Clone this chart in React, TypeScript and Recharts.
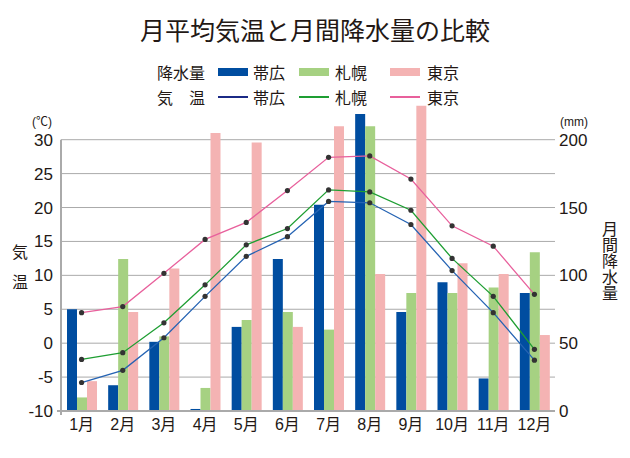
import {
  Bar,
  CartesianGrid,
  ComposedChart,
  Line,
  ReferenceArea,
  XAxis,
  YAxis,
} from "recharts";

const MONTHS = ["1月", "2月", "3月", "4月", "5月", "6月", "7月", "8月", "9月", "10月", "11月", "12月"];

// monthly precipitation (mm)
const PRECIP_OBIHIRO = [75, 19, 51, 1.5, 62, 112, 152, 219, 73, 95, 24, 87];
const PRECIP_SAPPORO = [10, 112, 55, 17, 67, 73, 60, 210, 87, 87, 91, 117];
const PRECIP_TOKYO = [22, 73, 105, 205, 198, 62, 210, 101, 225, 109, 101, 56];

// monthly mean temperature (°C)
const TEMP_OBIHIRO = [-5.8, -4.0, 0.8, 6.9, 12.8, 15.7, 20.9, 20.7, 17.5, 10.7, 4.5, -2.5];
const TEMP_SAPPORO = [-2.4, -1.4, 3.0, 8.6, 14.5, 16.9, 22.6, 22.3, 19.6, 12.5, 6.9, -0.9];
const TEMP_TOKYO = [4.5, 5.4, 10.3, 15.3, 17.8, 22.5, 27.4, 27.6, 24.2, 17.3, 14.3, 7.2];

const TEMP_TICKS = [-10, -5, 0, 5, 10, 15, 20, 25, 30];
const PRECIP_TICKS = [0, 50, 100, 150, 200];

const CITIES = ["帯広", "札幌", "東京"];
const BAR_COLORS = ["#004da0", "#a6d182", "#f4b3b3"];
const LINE_COLORS = ["#2563b3", "#1e9e32", "#e8609c"];
const LEGEND_LINE_COLORS = ["#1b2a86", "#1e9e32", "#e8609c"];

const FONT = "'Liberation Sans', 'Noto Sans CJK JP', sans-serif";
const JP_FONT = "'Noto Sans CJK JP', sans-serif";
const TEXT = "#231815";
const GRID = "#aaaaaa";

const data = MONTHS.map((month, i) => ({
  month,
  pObihiro: PRECIP_OBIHIRO[i],
  pSapporo: PRECIP_SAPPORO[i],
  pTokyo: PRECIP_TOKYO[i],
  tObihiro: TEMP_OBIHIRO[i],
  tSapporo: TEMP_SAPPORO[i],
  tTokyo: TEMP_TOKYO[i],
}));

const LEGEND_SWATCH_X = [218, 299, 390];
const LEGEND_TEXT_X = [253, 335, 427];

// left axis line, only over the temperature range, with a small tick at the bottom
function AxisLineShape(props: any) {
  const { x, y, height } = props;
  return (
    <g>
      <line x1={x} y1={y} x2={x} y2={y + height + 4} stroke={GRID} strokeWidth={2} />
      <line x1={x - 4} y1={y + height} x2={x} y2={y + height} stroke={GRID} strokeWidth={2} />
    </g>
  );
}

function LegendRow({ top, label, kind, colors }: { top: number; label: string; kind: "rect" | "line"; colors: string[] }) {
  return (
    <>
      <div style={{ position: "absolute", left: 157, top, fontSize: 16, lineHeight: "18px", fontFamily: JP_FONT, color: TEXT, whiteSpace: "pre" }}>
        {label}
      </div>
      {CITIES.map((city, i) => (
        <div key={city}>
          <div
            style={{
              position: "absolute",
              left: LEGEND_SWATCH_X[i],
              top: kind === "rect" ? top + 5 : top + 8,
              width: 30,
              height: kind === "rect" ? 8 : 2,
              background: colors[i],
            }}
          />
          <div style={{ position: "absolute", left: LEGEND_TEXT_X[i], top, fontSize: 16, lineHeight: "18px", fontFamily: JP_FONT, color: TEXT }}>
            {city}
          </div>
        </div>
      ))}
    </>
  );
}

export default function App() {
  return (
    <div style={{ position: "absolute", left: 0, top: 0, width: 630, height: 458, background: "#fff", fontFamily: FONT }}>
      <ComposedChart width={630} height={458} data={data} margin={{ top: 99, right: 15, bottom: 17, left: 11 }} barGap={0}>
        <CartesianGrid yAxisId="temp" vertical={false} syncWithTicks stroke={GRID} strokeWidth={1} />
        <XAxis
          dataKey="month"
          axisLine={{ stroke: GRID, strokeWidth: 2 }}
          tickLine={false}
          tick={{ fill: TEXT, fontSize: 16, fontFamily: FONT }}
          interval={0}
        />
        <YAxis
          yAxisId="temp"
          domain={[-10, 36]}
          ticks={TEMP_TICKS}
          axisLine={false}
          tickLine={false}
          width={50}
          tick={{ fill: TEXT, fontSize: 17, fontFamily: FONT }}
        />
        <YAxis
          yAxisId="precip"
          orientation="right"
          domain={[0, 230]}
          ticks={PRECIP_TICKS}
          axisLine={false}
          tickLine={false}
          tickSize={2}
          width={60}
          tick={{ fill: TEXT, fontSize: 17, fontFamily: FONT, textAnchor: "start" }}
        />
        <ReferenceArea yAxisId="temp" y1={-10} y2={30} shape={<AxisLineShape />} />
        <Bar yAxisId="precip" dataKey="pObihiro" fill={BAR_COLORS[0]} barSize={10} isAnimationActive={false} />
        <Bar yAxisId="precip" dataKey="pSapporo" fill={BAR_COLORS[1]} barSize={10} isAnimationActive={false} />
        <Bar yAxisId="precip" dataKey="pTokyo" fill={BAR_COLORS[2]} barSize={10} isAnimationActive={false} />
        <Line yAxisId="temp" type="linear" dataKey="tTokyo" stroke={LINE_COLORS[2]} strokeWidth={1.3} dot={{ r: 2.6, fill: "#333", stroke: "none" }} isAnimationActive={false} />
        <Line yAxisId="temp" type="linear" dataKey="tSapporo" stroke={LINE_COLORS[1]} strokeWidth={1.3} dot={{ r: 2.6, fill: "#333", stroke: "none" }} isAnimationActive={false} />
        <Line yAxisId="temp" type="linear" dataKey="tObihiro" stroke={LINE_COLORS[0]} strokeWidth={1.3} dot={{ r: 2.6, fill: "#333", stroke: "none" }} isAnimationActive={false} />
      </ComposedChart>

      <div style={{ position: "absolute", left: 0, top: 14, width: 630, textAlign: "center", fontSize: 25, lineHeight: "30px", fontFamily: JP_FONT, color: TEXT }}>
        月平均気温と月間降水量の比較
      </div>

      <LegendRow top={63} label="降水量" kind="rect" colors={BAR_COLORS} />
      <LegendRow top={88} label={"気\u3000温"} kind="line" colors={LEGEND_LINE_COLORS} />

      <div style={{ position: "absolute", left: 32, top: 115, fontSize: 12, lineHeight: "14px", fontFamily: FONT, color: TEXT }}>(℃)</div>
      <div style={{ position: "absolute", left: 560, top: 115, fontSize: 12, lineHeight: "14px", fontFamily: FONT, color: TEXT }}>(mm)</div>

      <div style={{ position: "absolute", left: 12, top: 236, width: 16, fontSize: 16, lineHeight: "30px", fontFamily: JP_FONT, color: TEXT }}>
        <div>気</div>
        <div>温</div>
      </div>
      <div style={{ position: "absolute", left: 602, top: 221, writingMode: "vertical-rl", fontSize: 16, lineHeight: "16px", fontFamily: JP_FONT, color: TEXT }}>
        月間降水量
      </div>
    </div>
  );
}
